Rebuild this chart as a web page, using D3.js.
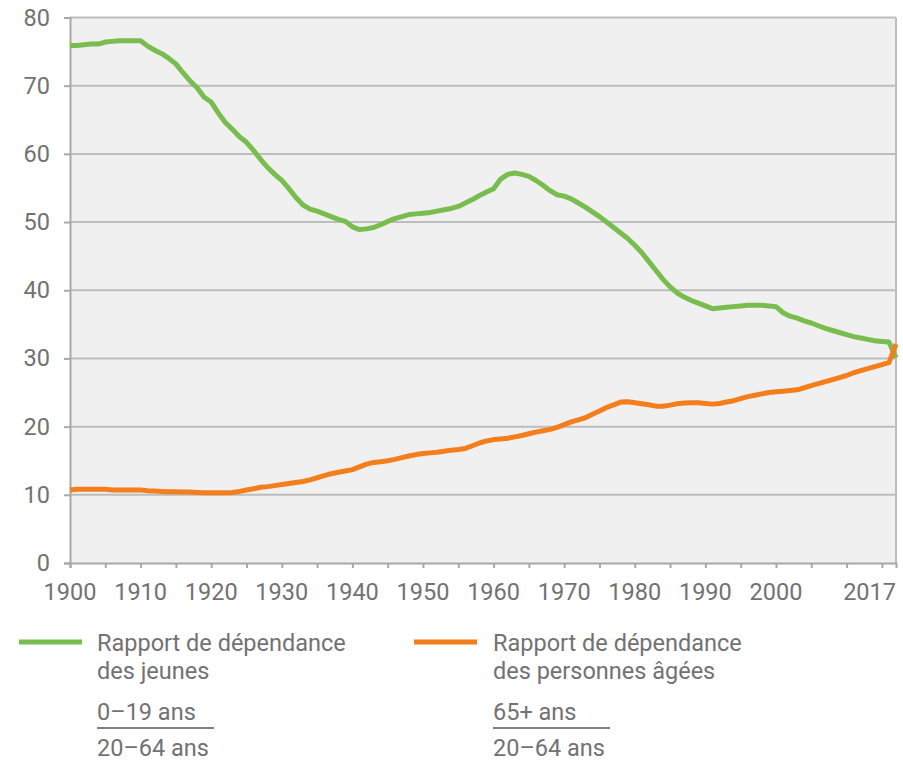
<!DOCTYPE html>
<html>
<head>
<meta charset="utf-8">
<script src="https://cdn.jsdelivr.net/npm/d3@7"></script>
<style>
  body { margin: 0; background: #fff; }
  svg { display: block; font-family: Roboto, "Noto Sans", sans-serif; }
</style>
</head>
<body>
<svg id="drawspace" width="903" height="763"></svg>
<script>
// years 1900..2017, one value per year
const years = d3.range(1900, 2018);

// rapport de dépendance des jeunes (0-19 / 20-64)
const jeunes = [
  75.9, 75.9, 76.0, 76.1, 76.1, 76.4, 76.5, 76.6, 76.6, 76.6,
  76.6, 75.8, 75.2, 74.7, 74.0, 73.2, 71.9, 70.7, 69.7, 68.3,
  67.6, 66.0, 64.6, 63.6, 62.5, 61.7, 60.5, 59.2, 58.0, 57.0,
  56.1, 54.9, 53.6, 52.5, 51.9, 51.6, 51.2, 50.8, 50.4, 50.1,
  49.3, 48.9, 49.0, 49.2, 49.6, 50.1, 50.5, 50.8, 51.1, 51.2,
  51.3, 51.4, 51.6, 51.8, 52.0, 52.3, 52.8, 53.3, 53.9, 54.4,
  54.9, 56.3, 57.0, 57.2, 57.0, 56.7, 56.1, 55.4, 54.6, 54.0,
  53.8, 53.4, 52.8, 52.2, 51.5, 50.8, 50.0, 49.2, 48.4, 47.6,
  46.6, 45.5, 44.2, 42.9, 41.6, 40.5, 39.6, 39.0, 38.5, 38.1,
  37.7, 37.3, 37.4, 37.5, 37.6, 37.7, 37.8, 37.8, 37.8, 37.7,
  37.6, 36.7, 36.2, 35.9, 35.5, 35.2, 34.8, 34.4, 34.1, 33.8,
  33.5, 33.2, 33.0, 32.8, 32.6, 32.5, 32.4, 30.1
];

// rapport de dépendance des personnes âgées (65+ / 20-64)
const ages = [
  10.7, 10.8, 10.8, 10.8, 10.8, 10.8, 10.7, 10.7, 10.7, 10.7,
  10.7, 10.6, 10.55, 10.5, 10.45, 10.45, 10.4, 10.4, 10.35, 10.3,
  10.3, 10.3, 10.3, 10.35, 10.5, 10.7, 10.9, 11.1, 11.2, 11.35,
  11.5, 11.65, 11.8, 11.95, 12.2, 12.5, 12.8, 13.1, 13.3, 13.5,
  13.7, 14.1, 14.5, 14.75, 14.85, 15.0, 15.2, 15.45, 15.7, 15.9,
  16.05, 16.15, 16.25, 16.4, 16.55, 16.65, 16.8, 17.2, 17.6, 17.9,
  18.1, 18.2, 18.3, 18.5, 18.7, 18.95, 19.2, 19.4, 19.6, 19.9,
  20.3, 20.7, 21.0, 21.3, 21.8, 22.3, 22.8, 23.2, 23.6, 23.65,
  23.5, 23.35, 23.2, 23.0, 23.0, 23.15, 23.35, 23.45, 23.5, 23.5,
  23.4, 23.3, 23.4, 23.6, 23.8, 24.1, 24.4, 24.6, 24.8, 25.0,
  25.1, 25.2, 25.3, 25.4, 25.7, 26.0, 26.3, 26.6, 26.9, 27.2,
  27.5, 27.9, 28.2, 28.5, 28.8, 29.1, 29.4, 32.1
];

const yTicks = [0, 10, 20, 30, 40, 50, 60, 70, 80];
const xLabels = [1900, 1910, 1920, 1930, 1940, 1950, 1960, 1970, 1980, 1990, 2000];
const lastLabel = 2017;
const minorTicks = d3.range(1900, 2016, 5);

const legendItems = [
  { lines: ["Rapport de dépendance", "des jeunes"], num: "0\u201319 ans", den: "20\u201364 ans", color: "#79bd4f" },
  { lines: ["Rapport de dépendance", "des personnes âgées"], num: "65+ ans", den: "20\u201364 ans", color: "#f47d1c" }
];

const svg = d3.select("#drawspace");
const plotLeft = 70, plotTop = 17.5, plotRight = 896, plotBottom = 563;
const gridColor = "#bdbdbd", axisColor = "#a8a8a8", textColor = "#727272";
const fontSize = "23.5px";

const x = d3.scaleLinear().domain([1900, 2017]).range([plotLeft, plotRight]);
const y = d3.scaleLinear().domain([0, 80]).range([plotBottom, plotTop]);

// plot background
svg.append("rect")
  .attr("x", plotLeft).attr("y", plotTop)
  .attr("width", plotRight - plotLeft).attr("height", plotBottom - plotTop)
  .attr("fill", "#f0f0f0");

// gridlines
svg.append("g")
  .selectAll("line")
  .data(yTicks.filter((d) => d > 0))
  .enter()
  .append("line")
  .attr("x1", plotLeft).attr("x2", plotRight)
  .attr("y1", (d) => y(d)).attr("y2", (d) => y(d))
  .attr("stroke", gridColor)
  .attr("stroke-width", 2);

// right border
svg.append("line")
  .attr("x1", plotRight).attr("x2", plotRight)
  .attr("y1", plotTop).attr("y2", plotBottom)
  .attr("stroke", gridColor).attr("stroke-width", 2);

// y axis
const yAxis = svg.append("g")
  .attr("transform", "translate(" + plotLeft + ",0)")
  .call(d3.axisLeft(y).tickValues(yTicks).tickSize(6).tickPadding(14));
yAxis.select(".domain").attr("stroke", axisColor).attr("stroke-width", 2);
yAxis.selectAll(".tick line").attr("stroke", axisColor).attr("stroke-width", 2);
yAxis.selectAll(".tick text")
  .attr("fill", textColor)
  .attr("font-size", fontSize)
  .attr("font-family", "Roboto, sans-serif");

// x axis with minor ticks
const xAxis = svg.append("g")
  .attr("transform", "translate(0," + plotBottom + ")")
  .call(d3.axisBottom(x).tickValues(minorTicks).tickSize(5).tickFormat(""));
xAxis.select(".domain").attr("stroke", axisColor).attr("stroke-width", 2);
xAxis.selectAll(".tick line").attr("stroke", axisColor).attr("stroke-width", 2);

svg.append("g")
  .selectAll("text")
  .data(xLabels)
  .enter()
  .append("text")
  .attr("x", (d) => x(d))
  .attr("y", plotBottom + 37)
  .attr("text-anchor", "middle")
  .attr("fill", textColor)
  .attr("font-size", fontSize)
  .text((d) => d);

svg.append("text")
  .attr("x", x(lastLabel))
  .attr("y", plotBottom + 37)
  .attr("text-anchor", "end")
  .attr("fill", textColor)
  .attr("font-size", fontSize)
  .text(lastLabel);

// lines
const line = (values) => d3.line()
  .x((d, i) => x(years[i]))
  .y((d) => y(d))(values);

svg.append("path")
  .attr("d", line(jeunes))
  .attr("fill", "none")
  .attr("stroke", legendItems[0].color)
  .attr("stroke-width", 5)
  .attr("stroke-linejoin", "round");

svg.append("path")
  .attr("d", line(ages))
  .attr("fill", "none")
  .attr("stroke", legendItems[1].color)
  .attr("stroke-width", 5)
  .attr("stroke-linejoin", "round");

// legend
const legendX = [19, 414];
legendItems.forEach((item, i) => {
  const g = svg.append("g").attr("transform", "translate(" + legendX[i] + ",0)");
  g.append("line")
    .attr("x1", 0).attr("x2", 63)
    .attr("y1", 642).attr("y2", 642)
    .attr("stroke", item.color)
    .attr("stroke-width", 5);
  const tx = i === 0 ? 78 : 79;
  item.lines.forEach((t, j) => {
    g.append("text")
      .attr("x", tx).attr("y", 651 + j * 28)
      .attr("fill", textColor)
      .attr("font-size", fontSize)
      .text(t);
  });
  g.append("text")
    .attr("x", tx).attr("y", 720)
    .attr("fill", textColor)
    .attr("font-size", fontSize)
    .text(item.num);
  g.append("line")
    .attr("x1", tx).attr("x2", tx + 117)
    .attr("y1", 728).attr("y2", 728)
    .attr("stroke", "#808080")
    .attr("stroke-width", 2);
  g.append("text")
    .attr("x", tx).attr("y", 756)
    .attr("fill", textColor)
    .attr("font-size", fontSize)
    .text(item.den);
});
</script>
</body>
</html>
